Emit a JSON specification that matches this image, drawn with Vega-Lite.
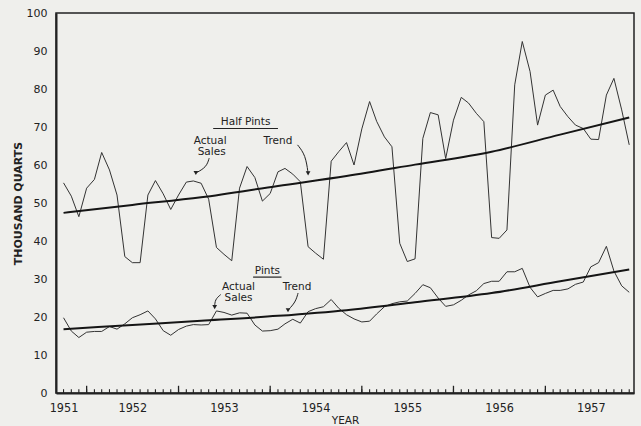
{
  "$schema": "https://vega.github.io/schema/vega-lite/v6.json",
  "width": 578,
  "height": 380,
  "autosize": {"type": "none"},
  "padding": {"left": 56, "top": 13, "right": 7, "bottom": 33},
  "background": "#efefec",
  "config": {"view": {"stroke": "#222222", "strokeWidth": 1.5}, "font": "DejaVu Sans"},
  "datasets": {
    "sales": [
      {"date": "1951-10-01", "halfPints": 55.3, "pints": 19.8},
      {"date": "1951-11-01", "halfPints": 51.8, "pints": 16.3},
      {"date": "1951-12-01", "halfPints": 46.4, "pints": 14.6},
      {"date": "1952-01-01", "halfPints": 53.9, "pints": 16.0},
      {"date": "1952-02-01", "halfPints": 56.2, "pints": 16.2},
      {"date": "1952-03-01", "halfPints": 63.3, "pints": 16.2},
      {"date": "1952-04-01", "halfPints": 58.7, "pints": 17.5},
      {"date": "1952-05-01", "halfPints": 52.1, "pints": 16.8},
      {"date": "1952-06-01", "halfPints": 35.9, "pints": 18.2},
      {"date": "1952-07-01", "halfPints": 34.3, "pints": 19.8},
      {"date": "1952-08-01", "halfPints": 34.3, "pints": 20.6},
      {"date": "1952-09-01", "halfPints": 52.1, "pints": 21.6},
      {"date": "1952-10-01", "halfPints": 55.9, "pints": 19.5},
      {"date": "1952-11-01", "halfPints": 52.4, "pints": 16.4},
      {"date": "1952-12-01", "halfPints": 48.3, "pints": 15.2},
      {"date": "1953-01-01", "halfPints": 52.1, "pints": 16.7},
      {"date": "1953-02-01", "halfPints": 55.5, "pints": 17.6},
      {"date": "1953-03-01", "halfPints": 55.8, "pints": 18.0},
      {"date": "1953-04-01", "halfPints": 55.2, "pints": 17.9},
      {"date": "1953-05-01", "halfPints": 51.0, "pints": 18.0},
      {"date": "1953-06-01", "halfPints": 38.3, "pints": 21.6},
      {"date": "1953-07-01", "halfPints": 36.5, "pints": 21.2},
      {"date": "1953-08-01", "halfPints": 34.8, "pints": 20.5},
      {"date": "1953-09-01", "halfPints": 53.9, "pints": 21.1},
      {"date": "1953-10-01", "halfPints": 59.6, "pints": 21.0},
      {"date": "1953-11-01", "halfPints": 56.7, "pints": 17.9},
      {"date": "1953-12-01", "halfPints": 50.5, "pints": 16.3},
      {"date": "1954-01-01", "halfPints": 52.5, "pints": 16.4},
      {"date": "1954-02-01", "halfPints": 58.2, "pints": 16.8},
      {"date": "1954-03-01", "halfPints": 59.1, "pints": 18.2},
      {"date": "1954-04-01", "halfPints": 57.6, "pints": 19.4},
      {"date": "1954-05-01", "halfPints": 55.6, "pints": 18.4},
      {"date": "1954-06-01", "halfPints": 38.5, "pints": 21.4},
      {"date": "1954-07-01", "halfPints": 36.8, "pints": 22.2},
      {"date": "1954-08-01", "halfPints": 35.2, "pints": 22.7},
      {"date": "1954-09-01", "halfPints": 61.0, "pints": 24.6},
      {"date": "1954-10-01", "halfPints": 63.5, "pints": 22.3},
      {"date": "1954-11-01", "halfPints": 65.9, "pints": 20.6},
      {"date": "1954-12-01", "halfPints": 60.0, "pints": 19.5},
      {"date": "1955-01-01", "halfPints": 69.5, "pints": 18.7},
      {"date": "1955-02-01", "halfPints": 76.7, "pints": 18.9},
      {"date": "1955-03-01", "halfPints": 71.5, "pints": 20.8},
      {"date": "1955-04-01", "halfPints": 67.4, "pints": 22.7},
      {"date": "1955-05-01", "halfPints": 64.8, "pints": 23.5},
      {"date": "1955-06-01", "halfPints": 39.4, "pints": 24.0},
      {"date": "1955-07-01", "halfPints": 34.6, "pints": 24.2},
      {"date": "1955-08-01", "halfPints": 35.3, "pints": 26.2},
      {"date": "1955-09-01", "halfPints": 67.0, "pints": 28.5},
      {"date": "1955-10-01", "halfPints": 73.8, "pints": 27.7},
      {"date": "1955-11-01", "halfPints": 73.2, "pints": 25.0},
      {"date": "1955-12-01", "halfPints": 61.7, "pints": 22.8},
      {"date": "1956-01-01", "halfPints": 71.8, "pints": 23.2},
      {"date": "1956-02-01", "halfPints": 77.8, "pints": 24.4},
      {"date": "1956-03-01", "halfPints": 76.3, "pints": 25.8},
      {"date": "1956-04-01", "halfPints": 73.6, "pints": 26.9},
      {"date": "1956-05-01", "halfPints": 71.4, "pints": 28.8},
      {"date": "1956-06-01", "halfPints": 40.9, "pints": 29.4},
      {"date": "1956-07-01", "halfPints": 40.7, "pints": 29.4},
      {"date": "1956-08-01", "halfPints": 42.9, "pints": 31.9},
      {"date": "1956-09-01", "halfPints": 81.1, "pints": 31.9},
      {"date": "1956-10-01", "halfPints": 92.5, "pints": 32.8},
      {"date": "1956-11-01", "halfPints": 84.6, "pints": 27.8},
      {"date": "1956-12-01", "halfPints": 70.5, "pints": 25.3},
      {"date": "1957-01-01", "halfPints": 78.4, "pints": 26.2},
      {"date": "1957-02-01", "halfPints": 79.7, "pints": 27.0},
      {"date": "1957-03-01", "halfPints": 75.4, "pints": 27.0},
      {"date": "1957-04-01", "halfPints": 72.7, "pints": 27.4},
      {"date": "1957-05-01", "halfPints": 70.5, "pints": 28.6},
      {"date": "1957-06-01", "halfPints": 69.6, "pints": 29.2},
      {"date": "1957-07-01", "halfPints": 66.8, "pints": 33.2},
      {"date": "1957-08-01", "halfPints": 66.7, "pints": 34.3},
      {"date": "1957-09-01", "halfPints": 78.4, "pints": 38.6},
      {"date": "1957-10-01", "halfPints": 82.8, "pints": 32.1},
      {"date": "1957-11-01", "halfPints": 74.5, "pints": 28.2},
      {"date": "1957-12-01", "halfPints": 65.3, "pints": 26.5}
    ],
    "trend": [
      {"date": "1951-10-01", "halfPintsTrend": 47.4, "pintsTrend": 16.8},
      {"date": "1952-07-01", "halfPintsTrend": 49.5, "pintsTrend": 17.9},
      {"date": "1953-04-01", "halfPintsTrend": 51.5, "pintsTrend": 19.0},
      {"date": "1954-02-01", "halfPintsTrend": 54.5, "pintsTrend": 20.3},
      {"date": "1954-11-01", "halfPintsTrend": 57.1, "pintsTrend": 21.8},
      {"date": "1955-08-01", "halfPintsTrend": 60.1, "pintsTrend": 23.9},
      {"date": "1956-06-01", "halfPintsTrend": 63.5, "pintsTrend": 26.3},
      {"date": "1957-03-01", "halfPintsTrend": 68.0, "pintsTrend": 29.4},
      {"date": "1957-12-01", "halfPintsTrend": 72.5, "pintsTrend": 32.5}
    ],
    "yearTicks": [
      {"date": "1952-01-01"},
      {"date": "1953-01-01"},
      {"date": "1954-01-01"},
      {"date": "1955-01-01"},
      {"date": "1956-01-01"},
      {"date": "1957-01-01"}
    ],
    "labels": [
      {"label": "Half Pints", "date": "1953-09-25", "value": 71.3},
      {"label": "Actual", "date": "1953-05-07", "value": 66.3},
      {"label": "Sales", "date": "1953-05-13", "value": 63.3},
      {"label": "Trend", "date": "1954-02-01", "value": 66.3},
      {"label": "Pints", "date": "1953-12-21", "value": 32.1},
      {"label": "Actual", "date": "1953-08-28", "value": 28.0},
      {"label": "Sales", "date": "1953-08-28", "value": 24.9},
      {"label": "Trend", "date": "1954-04-18", "value": 28.0}
    ],
    "underlines": [
      {"date": "1953-05-19", "date2": "1954-02-01", "value": 69.6},
      {"date": "1953-10-25", "date2": "1954-02-15", "value": 30.5}
    ],
    "arrows": [
      {"arrow": "hpActual", "step": 0, "date": "1953-05-03", "value": 61.8},
      {"arrow": "hpActual", "step": 1, "date": "1953-04-22", "value": 59.4},
      {"arrow": "hpActual", "step": 2, "date": "1953-03-11", "value": 57.9},
      {"arrow": "hpTrend", "step": 0, "date": "1954-04-20", "value": 65.3},
      {"arrow": "hpTrend", "step": 1, "date": "1954-05-22", "value": 62.6},
      {"arrow": "hpTrend", "step": 2, "date": "1954-06-01", "value": 57.8},
      {"arrow": "pActual", "step": 0, "date": "1953-06-18", "value": 25.9},
      {"arrow": "pActual", "step": 1, "date": "1953-05-26", "value": 24.6},
      {"arrow": "pActual", "step": 2, "date": "1953-05-25", "value": 22.6},
      {"arrow": "pTrend", "step": 0, "date": "1954-04-22", "value": 26.3},
      {"arrow": "pTrend", "step": 1, "date": "1954-04-12", "value": 23.9},
      {"arrow": "pTrend", "step": 2, "date": "1954-03-13", "value": 21.8}
    ]
  },
  "resolve": {"axis": {"x": "independent", "y": "independent"}},
  "layer": [
    {
      "data": {"name": "sales"},
      "mark": {"type": "line", "stroke": "#333333", "strokeWidth": 1},
      "encoding": {
        "x": {
          "field": "date", "type": "temporal",
          "scale": {"type": "utc", "domain": [{"year": 1951, "month": 9, "date": 1, "utc": true}, {"year": 1957, "month": 12, "date": 20, "utc": true}]},
          "axis": {
            "orient": "bottom",
            "tickCount": {"interval": "month", "step": 1},
            "ticks": false, "tickSize": 0,
            "domainColor": "#222222", "domainWidth": 2, "grid": false,
            "labelExpr": "utcmonth(datum.value) === 6 || (utcyear(datum.value) === 1951 && utcmonth(datum.value) === 9) ? utcFormat(datum.value, '%Y') : ''",
            "labelPadding": 8, "labelFont": "DejaVu Sans Condensed", "labelFontSize": 12.5, "labelColor": "#222222",
            "labelFlush": false, "labelOverlap": false,
            "title": "YEAR", "titleFontSize": 10.5, "titleFontWeight": "normal", "titleColor": "#222222", "titlePadding": 2
          }
        },
        "y": {
          "field": "halfPints", "type": "quantitative",
          "scale": {"domain": [0, 100], "nice": false},
          "axis": {"orient": "left", "values": [0, 10, 20, 30, 40, 50, 60, 70, 80, 90, 100], "grid": false, "tickSize": 0, "labelPadding": 9, "labelFontSize": 11, "labelColor": "#222222", "domainColor": "#222222", "domainWidth": 2, "title": "THOUSAND QUARTS", "titleFontWeight": "bold", "titleFontSize": 11, "titleColor": "#222222", "titlePadding": 3}
        }
      }
    },
    {
      "data": {"name": "trend"},
      "mark": {"type": "line", "stroke": "#151515", "strokeWidth": 2, "interpolate": "monotone"},
      "encoding": {
        "x": {"field": "date", "type": "temporal", "axis": null},
        "y": {"field": "halfPintsTrend", "type": "quantitative", "axis": null}
      }
    },
    {
      "data": {"name": "sales"},
      "mark": {"type": "line", "stroke": "#333333", "strokeWidth": 1},
      "encoding": {
        "x": {"field": "date", "type": "temporal", "axis": null},
        "y": {"field": "pints", "type": "quantitative", "axis": null}
      }
    },
    {
      "data": {"name": "trend"},
      "mark": {"type": "line", "stroke": "#151515", "strokeWidth": 2, "interpolate": "monotone"},
      "encoding": {
        "x": {"field": "date", "type": "temporal", "axis": null},
        "y": {"field": "pintsTrend", "type": "quantitative", "axis": null}
      }
    },
    {
      "data": {"name": "sales"},
      "mark": {"type": "rule", "stroke": "#222222", "strokeWidth": 1.1},
      "encoding": {
        "x": {"field": "date", "type": "temporal", "axis": null},
        "y": {"datum": 0, "type": "quantitative", "axis": null},
        "y2": {"datum": 1.0}
      }
    },
    {
      "data": {"name": "yearTicks"},
      "mark": {"type": "rule", "stroke": "#222222", "strokeWidth": 1.3},
      "encoding": {
        "x": {"field": "date", "type": "temporal", "axis": null},
        "y": {"datum": 0, "type": "quantitative", "axis": null},
        "y2": {"datum": 1.9}
      }
    },
    {
      "data": {"name": "underlines"},
      "mark": {"type": "rule", "stroke": "#222222", "strokeWidth": 1.2},
      "encoding": {
        "x": {"field": "date", "type": "temporal", "axis": null},
        "x2": {"field": "date2"},
        "y": {"field": "value", "type": "quantitative", "axis": null}
      }
    },
    {
      "data": {"name": "labels"},
      "mark": {"type": "text", "font": "DejaVu Sans", "fontSize": 10.5, "fill": "#222222", "align": "center", "baseline": "middle"},
      "encoding": {
        "x": {"field": "date", "type": "temporal", "axis": null},
        "y": {"field": "value", "type": "quantitative", "axis": null},
        "text": {"field": "label"}
      }
    },
    {
      "data": {"name": "arrows"},
      "mark": {"type": "line", "stroke": "#222222", "strokeWidth": 1, "interpolate": "basis"},
      "encoding": {
        "x": {"field": "date", "type": "temporal", "axis": null},
        "y": {"field": "value", "type": "quantitative", "axis": null},
        "detail": {"field": "arrow"},
        "order": {"field": "step"}
      }
    },
    {
      "data": {"name": "arrows"},
      "transform": [{"filter": "datum.step == 2"}],
      "mark": {"type": "point", "shape": "triangle-down", "size": 22, "filled": true, "fill": "#222222", "stroke": null, "opacity": 1},
      "encoding": {
        "x": {"field": "date", "type": "temporal", "axis": null},
        "y": {"field": "value", "type": "quantitative", "axis": null}
      }
    }
  ]
}
